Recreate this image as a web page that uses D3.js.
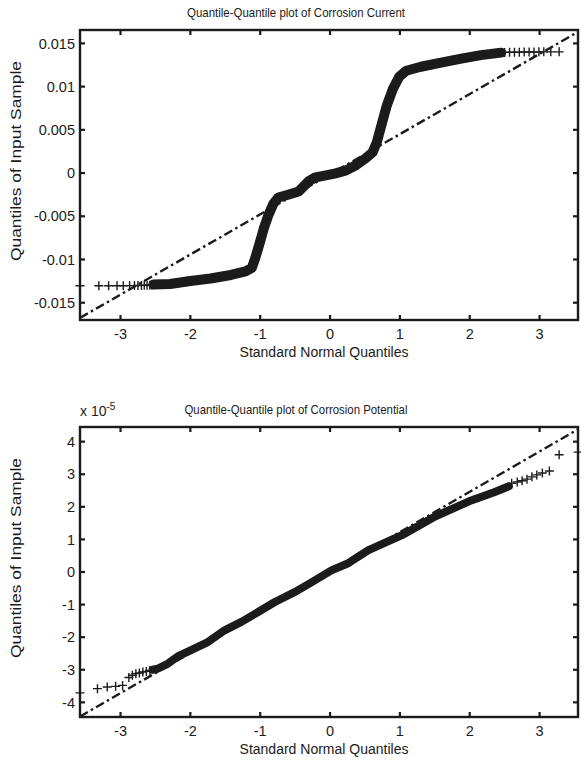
<!DOCTYPE html>
<html>
<head>
<meta charset="utf-8">
<script src="https://cdn.jsdelivr.net/npm/d3@7"></script>
<style>
  html, body { margin: 0; padding: 0; background: #fff; }
  svg { display: block; }
  text { font-family: "Liberation Sans", Arial, Helvetica, sans-serif; fill: #1b1b1b; }
</style>
</head>
<body>
<svg id="chart" width="581" height="760"></svg>
<script>
// ---- Corrosion current: normal quantiles vs sorted sample ----
const currentBodyQ = [-2.53,-2.29,-2.00,-1.71,-1.42,-1.21,-1.12,-1.07,-1.01,-0.95,-0.88,-0.81,-0.74,-0.59,-0.45,-0.38,-0.31,-0.21,-0.06,0.08,0.23,0.37,0.51,0.61,0.67,0.74,0.81,0.90,0.99,1.09,1.30,1.59,1.88,2.16,2.45];
const currentBodyV = [-0.01290,-0.01284,-0.01249,-0.01220,-0.01179,-0.01138,-0.01098,-0.00981,-0.00818,-0.00644,-0.00481,-0.00353,-0.00283,-0.00248,-0.00213,-0.00155,-0.00097,-0.00050,-0.00027,-0.00003,0.00031,0.00090,0.00171,0.00241,0.00357,0.00567,0.00776,0.00974,0.01114,0.01184,0.01230,0.01277,0.01324,0.01364,0.01393];
const currentLowQ  = [-3.58,-3.31,-3.17,-3.05,-2.96,-2.87,-2.80,-2.75,-2.70,-2.66,-2.62,-2.58,-2.55];
const currentLowV  = [-0.01304,-0.01304,-0.01304,-0.01303,-0.01303,-0.01302,-0.01302,-0.01301,-0.01300,-0.01299,-0.01298,-0.01297,-0.01295];
const currentHighQ = [2.50,2.57,2.64,2.71,2.78,2.85,2.92,2.99,3.06,3.16,3.28];
const currentHighV = [0.01396,0.01397,0.01398,0.01399,0.01400,0.01401,0.01401,0.01402,0.01402,0.01402,0.01402];
const currentQuartQ = [-0.6745, 0.6745];
const currentQuartV = [-0.00327, 0.00299];
const currentTicks = [-0.015,-0.01,-0.005,0,0.005,0.01,0.015];
const currentTickLabels = ["-0.015","-0.01","-0.005","0","0.005","0.01","0.015"];

// ---- Corrosion potential (values in units of 1e-5) ----
const potentialBodyQ = [-2.54,-2.47,-2.32,-2.18,-1.99,-1.75,-1.51,-1.27,-1.03,-0.79,-0.50,-0.26,0.02,0.26,0.55,1.03,1.51,1.99,2.35,2.56];
const potentialBodyV = [-3.00,-2.97,-2.81,-2.59,-2.40,-2.15,-1.79,-1.53,-1.23,-0.92,-0.61,-0.31,0.05,0.27,0.67,1.13,1.71,2.17,2.45,2.63];
const potentialLowQ  = [-3.58,-3.33,-3.19,-3.07,-2.97,-2.88,-2.83,-2.78,-2.73,-2.68,-2.63,-2.58];
const potentialLowV  = [-3.71,-3.58,-3.53,-3.51,-3.48,-3.24,-3.17,-3.12,-3.10,-3.07,-3.05,-3.02];
const potentialHighQ = [2.60,2.68,2.75,2.82,2.89,2.96,3.04,3.14,3.28,3.55];
const potentialHighV = [2.72,2.76,2.80,2.85,2.92,2.98,3.04,3.10,3.60,3.68];
const potentialQuartQ = [-0.6745, 0.6745];
const potentialQuartV = [-0.844, 0.824];
const potentialTicks = [-4,-3,-2,-1,0,1,2,3,4];
const potentialTickLabels = ["-4","-3","-2","-1","0","1","2","3","4"];
const potentialExponent = "-5";

const xTicks = [-3,-2,-1,0,1,2,3];
const xTickLabels = ["-3","-2","-1","0","1","2","3"];
const xDomain = [-3.58, 3.55];

const INK = "#1b1b1b";
const svg = d3.select("#chart");

function zip(a, b) { return a.map((v, i) => [v, b[i]]); }

function qqPanel(opt) {
  const { left, right, top, bottom } = opt.box;
  const x = d3.scaleLinear().domain(xDomain).range([left, right]);
  const y = d3.scaleLinear().domain(opt.yDomain).range([bottom, top]);
  const g = svg.append("g");

  // reference line through the quartile pair, carried across the axes
  const slope = (opt.quartV[1] - opt.quartV[0]) / (opt.quartQ[1] - opt.quartQ[0]);
  const refAt = q => opt.quartV[0] + slope * (q - opt.quartQ[0]);
  const clipId = opt.id + "-clip";
  g.append("clipPath").attr("id", clipId)
    .append("rect").attr("x", left).attr("y", top).attr("width", right - left).attr("height", bottom - top);
  g.append("line")
    .attr("clip-path", `url(#${clipId})`)
    .attr("x1", x(xDomain[0])).attr("y1", y(refAt(xDomain[0])))
    .attr("x2", x(xDomain[1])).attr("y2", y(refAt(xDomain[1])))
    .attr("stroke", INK).attr("stroke-width", 2.4)
    .attr("stroke-dasharray", "9,3.5,2.5,3.5");

  // dense body of the sample: overlapping markers form a solid band
  const line = d3.line().x(d => x(d[0])).y(d => y(d[1])).curve(d3.curveLinear);
  g.append("path")
    .datum(zip(opt.bodyQ, opt.bodyV))
    .attr("d", line)
    .attr("fill", "none").attr("stroke", INK)
    .attr("stroke-width", opt.bandWidth)
    .attr("stroke-linejoin", "round").attr("stroke-linecap", "round");

  // sparse tails as individual '+' markers
  const pts = zip(opt.lowQ, opt.lowV).concat(zip(opt.highQ, opt.highV));
  const s = 4.5;
  g.append("g").selectAll("path.plus").data(pts).join("path")
    .attr("class", "plus")
    .attr("d", d => {
      const px = x(d[0]), py = y(d[1]);
      return `M${px - s},${py}H${px + s}M${px},${py - s}V${py + s}`;
    })
    .attr("stroke", INK).attr("stroke-width", 1.4).attr("fill", "none");

  // frame
  g.append("rect").attr("x", left).attr("y", top)
    .attr("width", right - left).attr("height", bottom - top)
    .attr("fill", "none").attr("stroke", INK).attr("stroke-width", 2.4);

  // inward ticks on all four sides
  const tl = 5;
  const ticks = g.append("g").attr("stroke", INK).attr("stroke-width", 2.2);
  xTicks.forEach(t => {
    ticks.append("line").attr("x1", x(t)).attr("x2", x(t)).attr("y1", bottom).attr("y2", bottom - tl);
    ticks.append("line").attr("x1", x(t)).attr("x2", x(t)).attr("y1", top).attr("y2", top + tl);
  });
  opt.yTicks.forEach(t => {
    ticks.append("line").attr("x1", left).attr("x2", left + tl).attr("y1", y(t)).attr("y2", y(t));
    ticks.append("line").attr("x1", right).attr("x2", right - tl).attr("y1", y(t)).attr("y2", y(t));
  });

  const fs = 14.5;
  g.append("g").selectAll("text").data(xTicks).join("text")
    .attr("x", d => x(d)).attr("y", bottom + 19)
    .attr("text-anchor", "middle").attr("font-size", fs)
    .text((d, i) => xTickLabels[i]);
  g.append("g").selectAll("text").data(opt.yTicks).join("text")
    .attr("x", left - 5).attr("y", d => y(d) + 5.2)
    .attr("text-anchor", "end").attr("font-size", fs)
    .text((d, i) => opt.yTickLabels[i]);

  g.append("text").attr("x", 324).attr("y", bottom + 37)
    .attr("text-anchor", "middle").attr("font-size", 14)
    .text("Standard Normal Quantiles");
  g.append("text")
    .attr("transform", `translate(21,${(top + bottom) / 2 - 14}) rotate(-90)`)
    .attr("text-anchor", "middle").attr("font-size", 14)
    .attr("textLength", 200).attr("lengthAdjust", "spacingAndGlyphs")
    .text("Quantiles of Input Sample");
  g.append("text").attr("x", 296).attr("y", top - 13)
    .attr("text-anchor", "middle").attr("font-size", 13.5)
    .attr("textLength", opt.titleLength).attr("lengthAdjust", "spacingAndGlyphs")
    .text(opt.title);

  if (opt.exponent) {
    const t = g.append("text").attr("x", left).attr("y", top - 11).attr("font-size", 14);
    t.append("tspan").text("x 10");
    t.append("tspan").attr("dy", -6).attr("font-size", 10).text(opt.exponent);
  }
}

qqPanel({
  id: "current",
  box: { left: 80, right: 578, top: 30, bottom: 320 },
  yDomain: [-0.0170, 0.01655],
  bodyQ: currentBodyQ, bodyV: currentBodyV,
  lowQ: currentLowQ, lowV: currentLowV,
  highQ: currentHighQ, highV: currentHighV,
  quartQ: currentQuartQ, quartV: currentQuartV,
  yTicks: currentTicks, yTickLabels: currentTickLabels,
  bandWidth: 10,
  title: "Quantile-Quantile plot of Corrosion Current",
  titleLength: 218
});

qqPanel({
  id: "potential",
  box: { left: 80, right: 578, top: 427, bottom: 717 },
  yDomain: [-4.45, 4.45],
  bodyQ: potentialBodyQ, bodyV: potentialBodyV,
  lowQ: potentialLowQ, lowV: potentialLowV,
  highQ: potentialHighQ, highV: potentialHighV,
  quartQ: potentialQuartQ, quartV: potentialQuartV,
  yTicks: potentialTicks, yTickLabels: potentialTickLabels,
  bandWidth: 8,
  title: "Quantile-Quantile plot of Corrosion Potential",
  titleLength: 223,
  exponent: potentialExponent
});
</script>
</body>
</html>
